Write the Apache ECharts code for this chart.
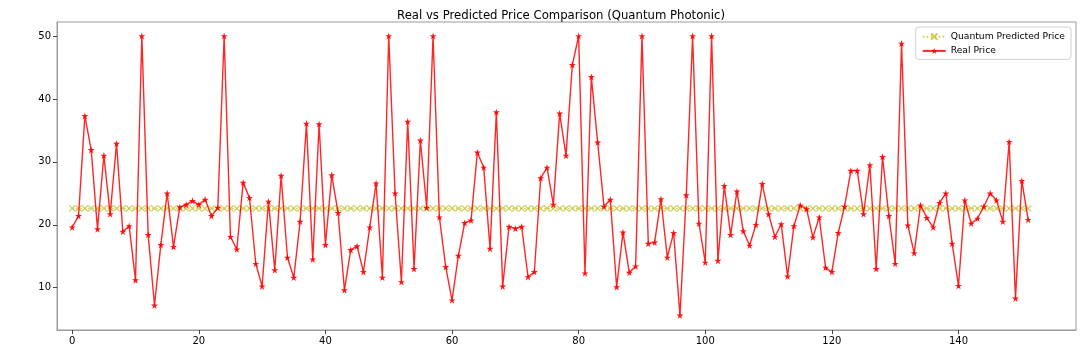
<!DOCTYPE html>
<html>
<head>
<meta charset="utf-8">
<script src="https://cdn.jsdelivr.net/npm/echarts@6/dist/echarts.min.js"></script>
<style>
html,body{margin:0;padding:0;background:#fff;}
#c{width:1090px;height:350px;}
</style>
</head>
<body>
<div id="c"></div>
<script>
const titleText = 'Real vs Predicted Price Comparison (Quantum Photonic)';
const seriesNames = ['Quantum Predicted Price', 'Real Price'];
const xTicks = [0, 20, 40, 60, 80, 100, 120, 140];
const yTicks = [10, 20, 30, 40, 50];

const realPrice = [
  19.6, 21.4, 37.3, 31.9, 19.3, 31.0, 21.7, 32.9, 18.9, 19.8,
  11.2, 50.0, 18.4, 7.2, 16.8, 25.0, 16.5, 22.8, 23.2, 23.8,
  23.2, 24.0, 21.4, 22.7, 50.0, 18.1, 16.1, 26.7, 24.3, 13.8,
  10.2, 23.7, 12.8, 27.8, 14.8, 11.6, 20.5, 36.1, 14.5, 36.0,
  16.8, 27.9, 21.9, 9.6, 16.0, 16.6, 12.5, 19.6, 26.6, 11.6,
  50.0, 25.0, 10.9, 36.4, 13.0, 33.4, 22.7, 50.0, 21.2, 13.3,
  8.0, 15.1, 20.3, 20.7, 31.5, 29.1, 16.2, 37.9, 10.2, 19.7,
  19.4, 19.7, 11.7, 12.5, 27.4, 29.1, 23.2, 37.7, 31.0, 45.4,
  50.0, 12.3, 43.5, 33.1, 22.9, 24.0, 10.1, 18.8, 12.4, 13.4,
  50.0, 17.0, 17.2, 24.1, 14.8, 18.7, 5.6, 24.7, 50.0, 20.2,
  14.0, 50.0, 14.3, 26.2, 18.4, 25.3, 19.0, 16.7, 20.0, 26.5,
  21.7, 18.1, 20.1, 11.8, 19.8, 23.1, 22.5, 18.0, 21.2, 13.2,
  12.5, 18.7, 22.9, 28.6, 28.6, 21.7, 29.5, 13.0, 30.8, 21.4,
  13.8, 48.8, 19.9, 15.5, 23.1, 21.1, 19.6, 23.5, 25.0, 17.0,
  10.3, 23.9, 20.2, 21.0, 22.9, 25.0, 23.9, 20.5, 33.2, 8.3,
  27.0, 20.8
];

const predictedPrice = [
  22.6, 22.6, 22.6, 22.6, 22.6, 22.6, 22.6, 22.6, 22.6, 22.6,
  22.6, 22.6, 22.6, 22.6, 22.6, 22.6, 22.6, 22.6, 22.6, 22.6,
  22.6, 22.6, 22.6, 22.6, 22.6, 22.6, 22.6, 22.6, 22.6, 22.6,
  22.6, 22.6, 22.6, 22.6, 22.6, 22.6, 22.6, 22.6, 22.6, 22.6,
  22.6, 22.6, 22.6, 22.6, 22.6, 22.6, 22.6, 22.6, 22.6, 22.6,
  22.6, 22.6, 22.6, 22.6, 22.6, 22.6, 22.6, 22.6, 22.6, 22.6,
  22.6, 22.6, 22.6, 22.6, 22.6, 22.6, 22.6, 22.6, 22.6, 22.6,
  22.6, 22.6, 22.6, 22.6, 22.6, 22.6, 22.6, 22.6, 22.6, 22.6,
  22.6, 22.6, 22.6, 22.6, 22.6, 22.6, 22.6, 22.6, 22.6, 22.6,
  22.6, 22.6, 22.6, 22.6, 22.6, 22.6, 22.6, 22.6, 22.6, 22.6,
  22.6, 22.6, 22.6, 22.6, 22.6, 22.6, 22.6, 22.6, 22.6, 22.6,
  22.6, 22.6, 22.6, 22.6, 22.6, 22.6, 22.6, 22.6, 22.6, 22.6,
  22.6, 22.6, 22.6, 22.6, 22.6, 22.6, 22.6, 22.6, 22.6, 22.6,
  22.6, 22.6, 22.6, 22.6, 22.6, 22.6, 22.6, 22.6, 22.6, 22.6,
  22.6, 22.6, 22.6, 22.6, 22.6, 22.6, 22.6, 22.6, 22.6, 22.6,
  22.6, 22.6
];

const FONT = 'DejaVu Sans';
const starPath = 'path://M50,0 L61.2,34.5 L97.6,34.5 L68.2,55.9 L79.4,90.5 L50,69.1 L20.6,90.5 L31.8,55.9 L2.4,34.5 L38.8,34.5 Z';
const xPath = 'path://M0,0 L10,10 M10,0 L0,10';

const toPairs = arr => arr.map((v, i) => [i, v]);
const axisColor = '#9a9a9a';

const chart = echarts.init(document.getElementById('c'), null, {renderer: 'canvas'});
chart.setOption({
  animation: false,
  backgroundColor: '#fff',
  title: {
    text: titleText,
    left: 556, textAlign: 'center', top: 5,
    textStyle: {fontFamily: FONT, fontSize: 11.7, fontWeight: 'normal', color: '#000'}
  },
  legend: {
    right: 19, top: 27, orient: 'vertical',
    backgroundColor: 'rgba(255,255,255,0.85)',
    borderColor: '#d0d0d0', borderWidth: 1, borderRadius: 3,
    padding: [4, 6, 4, 6], itemGap: 4, itemWidth: 23, itemHeight: 8,
    textStyle: {fontFamily: FONT, fontSize: 9.2, color: '#000'},
    data: seriesNames
  },
  grid: {left: 57, right: 14, top: 22, bottom: 20, show: true, borderColor: axisColor, borderWidth: 1},
  xAxis: {
    type: 'value', min: -2.4, max: 158.56,
    splitLine: {show: false},
    axisLine: {show: true, onZero: false, lineStyle: {color: axisColor}},
    axisTick: {show: true, customValues: xTicks, length: 4, lineStyle: {color: '#444'}},
    axisLabel: {customValues: xTicks, fontFamily: FONT, fontSize: 10, color: '#000', margin: 6}
  },
  yAxis: {
    type: 'value', min: 3.275, max: 52.225,
    splitLine: {show: false},
    axisLine: {show: true, onZero: false, lineStyle: {color: axisColor}},
    axisTick: {show: true, customValues: yTicks, length: 4, lineStyle: {color: '#444'}},
    axisLabel: {customValues: yTicks, fontFamily: FONT, fontSize: 10, color: '#000', margin: 6}
  },
  series: [
    {
      name: seriesNames[0], type: 'line', data: toPairs(predictedPrice),
      symbol: xPath, symbolSize: 6, showAllSymbol: true,
      lineStyle: {color: '#bfbf00', width: 1.5, type: [1.5, 2.5], opacity: 0.75},
      itemStyle: {color: 'none', borderColor: '#c4c43a', borderWidth: 1.2, opacity: 0.85},
      z: 2
    },
    {
      name: seriesNames[1], type: 'line', data: toPairs(realPrice),
      symbol: starPath, symbolSize: 7, showAllSymbol: true,
      lineStyle: {color: '#ff0000', width: 1.4, opacity: 0.85},
      itemStyle: {color: '#ff0000', opacity: 0.9},
      z: 3
    }
  ]
});
</script>
</body>
</html>
